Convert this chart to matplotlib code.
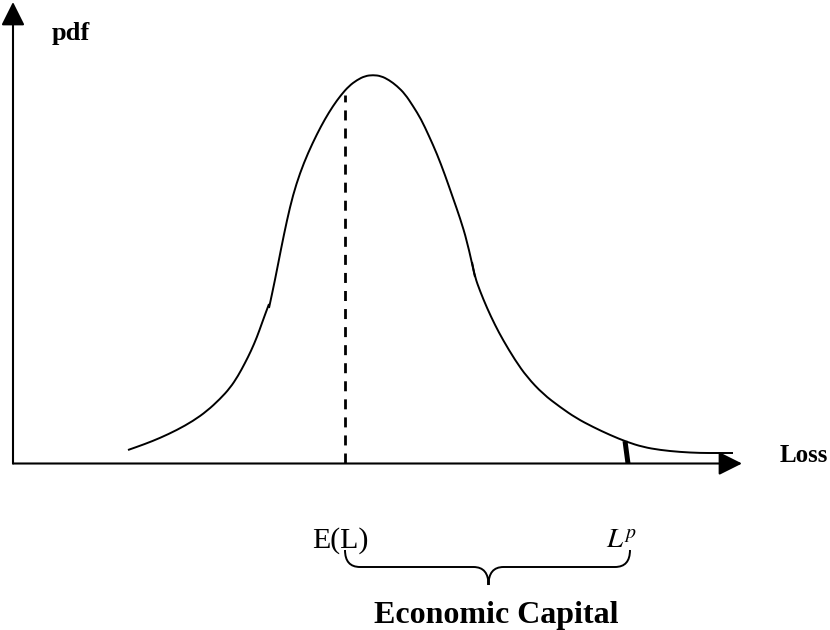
import matplotlib
matplotlib.use("Agg")
import matplotlib.pyplot as plt
from matplotlib.path import Path
from matplotlib.patches import PathPatch

plt.rcParams['font.family'] = ['Liberation Serif', 'DejaVu Serif']
plt.rcParams['mathtext.fontset'] = 'stix'

# ---- data (loss, pdf) ----
loss_left = [115, 132, 147, 164, 180, 194, 207, 217, 225, 232, 238, 244, 249, 253, 256]
pdf_left = [13, 19, 25, 33, 42, 52, 64, 75, 87, 100, 112, 126, 140, 151, 159]

loss_mid = [256, 262, 268, 274, 280, 287, 295, 304, 312, 320, 328, 336, 344, 352, 360,
            368, 376, 384, 392, 400, 408, 416, 424, 432, 440, 447, 454, 462]
pdf_mid = [155, 183, 214, 243, 268, 290, 310, 329, 344, 357, 368, 377, 383, 387, 388,
           387, 383, 377, 369, 357, 344, 327, 309, 288, 265, 245, 222, 186]

loss_right = [459, 462, 467, 474, 482, 490, 502, 514, 530, 547, 563, 580, 597, 614, 630,
              647, 667, 687, 705, 720]
pdf_right = [201, 186, 172, 155, 138, 123, 103, 86, 69, 56, 45, 36, 28, 21, 16,
             13, 11, 10, 10, 10]

expected_loss = 332
loss_p = 615
dashed_top = 368
axis_x_end = 729
axis_y_end = 461

fig = plt.figure(figsize=(8.3, 6.3), dpi=100)
ax = fig.add_axes([0, 0, 1, 1])
ax.set_xlim(-13, 817)
ax.set_ylim(-167, 463)
ax.axis('off')


def smooth_path(xs, ys):
    pts = list(zip(xs, ys))
    verts = [pts[0]]
    codes = [Path.MOVETO]
    m = ((pts[0][0] + pts[1][0]) / 2, (pts[0][1] + pts[1][1]) / 2)
    verts.append(m)
    codes.append(Path.LINETO)
    for i in range(1, len(pts) - 1):
        m = ((pts[i][0] + pts[i + 1][0]) / 2, (pts[i][1] + pts[i + 1][1]) / 2)
        verts += [pts[i], m]
        codes += [Path.CURVE3, Path.CURVE3]
    verts.append(pts[-1])
    codes.append(Path.LINETO)
    return Path(verts, codes)


lw = 1.4
for xs, ys in [(loss_left, pdf_left), (loss_mid, pdf_mid), (loss_right, pdf_right)]:
    ax.add_patch(PathPatch(smooth_path(xs, ys), fill=False, lw=lw, color='black',
                           capstyle='butt'))

# axes with arrows
arrow = dict(arrowstyle='-|>', mutation_scale=36, lw=1.5, color='black',
             shrinkA=0, shrinkB=0)
ax.annotate('', xy=(0, axis_y_end), xytext=(0, -0.5), arrowprops=arrow)
ax.annotate('', xy=(axis_x_end, -0.5), xytext=(0, -0.5), arrowprops=arrow)

# dashed line at E(L)
ax.plot([expected_loss, expected_loss], [0, dashed_top], color='black', lw=2.0,
        linestyle=(0, (3.6, 2.9)))

# thick tick at L^p
ax.plot([loss_p - 3, loss_p], [22, -0.5], color='black', lw=3.6, solid_capstyle='butt')

# texts
ax.text(39, 423, 'pdf', fontsize=19, fontweight='bold', ha='left', va='baseline')
ax.text(767, 1, 'Loss', fontsize=18, fontweight='bold', ha='left', va='baseline')
ax.text(expected_loss - 33, -85, 'E(L)', fontsize=21.5, ha='left', va='baseline')
ax.text(loss_p - 22, -85, r'$L^p$', fontsize=20.5, ha='left', va='baseline')

# curly brace between E(L) and L^p
yb0, yb1, ytip = -87, -104, -122
mid = (expected_loss + 2 + loss_p + 2) / 2
x0, x1 = expected_loss, loss_p + 2
r = 15
verts = [(x0, yb0), (x0, yb1), (x0 + r, yb1),
         (mid - r, yb1), (mid, yb1), (mid, ytip),
         (mid, yb1), (mid + r, yb1),
         (x1 - r, yb1), (x1, yb1), (x1, yb0)]
codes = [Path.MOVETO, Path.CURVE3, Path.CURVE3,
         Path.LINETO, Path.CURVE3, Path.CURVE3,
         Path.CURVE3, Path.CURVE3,
         Path.LINETO, Path.CURVE3, Path.CURVE3]
ax.add_patch(PathPatch(Path(verts, codes), fill=False, lw=1.4, color='black'))

ax.text(483.5, -160, 'Economic Capital', fontsize=23, fontweight='bold',
        ha='center', va='baseline')

fig.savefig('out.png', dpi=100)
